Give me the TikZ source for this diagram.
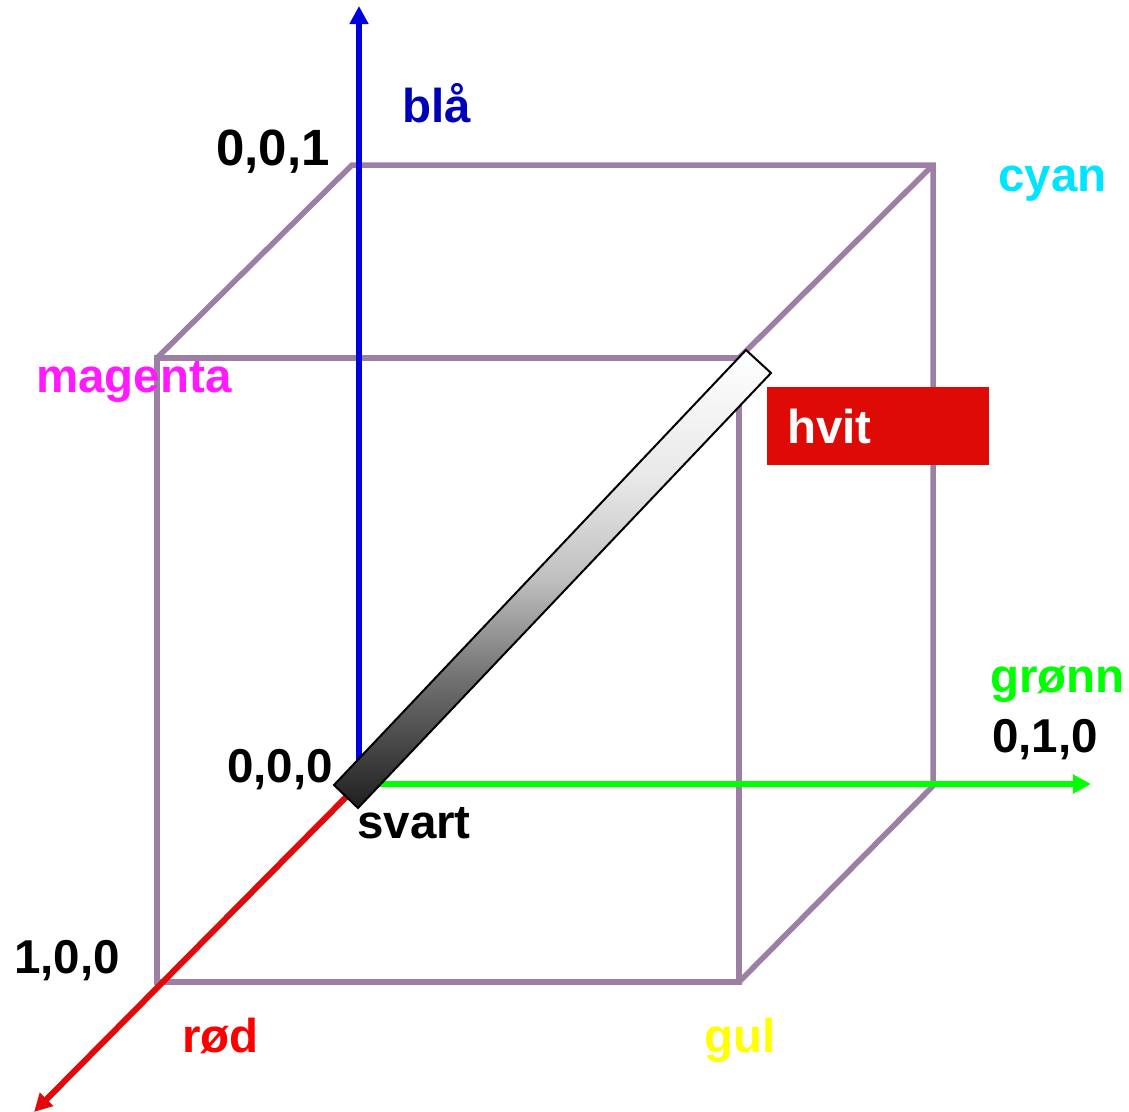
\documentclass[tikz,border=0pt]{standalone}
\usepackage{fontspec}
\setmainfont{Liberation Sans}
\usetikzlibrary{arrows.meta}
\definecolor{edgepurple}{HTML}{9B80A3}
\definecolor{axisblue}{HTML}{0000DD}
\definecolor{labelblue}{HTML}{0000B8}
\definecolor{axisgreen}{HTML}{00FF00}
\definecolor{axisred}{HTML}{E00A0A}
\definecolor{labelred}{HTML}{FF0000}
\definecolor{labelcyan}{HTML}{00E5FF}
\definecolor{labelmagenta}{HTML}{FF1AFF}
\definecolor{labelyellow}{HTML}{FFFF00}
\definecolor{boxred}{HTML}{DD0A05}
\pgfdeclareverticalshading{bargrey}{100bp}{
  rgb(0bp)=(0.12,0.12,0.12);
  rgb(25bp)=(0.12,0.12,0.12);
  rgb(39bp)=(0.44,0.44,0.44);
  rgb(50bp)=(0.75,0.75,0.75);
  rgb(61bp)=(0.91,0.91,0.91);
  rgb(75bp)=(1,1,1);
  rgb(100bp)=(1,1,1)}
\tikzset{
  cubeedge/.style={draw=edgepurple,line width=5.5pt,line join=miter},
  axisline/.style={line width=6pt,-{Triangle[length=18pt,width=18pt]}},
  lab/.style={anchor=base west,inner sep=0pt,font=\bfseries\fontsize{47.5}{47.5}\selectfont},
}
\begin{document}
\begin{tikzpicture}[x=1pt,y=-1pt]
\useasboundingbox (0,0) rectangle (1129,1111);
% cube corners
\coordinate (ftl) at (157,358);
\coordinate (ftr) at (739,358);
\coordinate (fbr) at (739,982);
\coordinate (fbl) at (157,982);
\coordinate (btl) at (352,165);
\coordinate (btr) at (933,165);
\coordinate (bbr) at (933,786);
% axis ends
\coordinate (origin) at (359,784);
\coordinate (bluetip) at (359,6);
\coordinate (greentip) at (1091,784);
\coordinate (redtip) at (34,1112);
% cube edges
\draw[cubeedge] (ftl) -- (ftr) -- (fbr) -- (fbl) -- cycle;
\draw[cubeedge] (ftl) -- (btl) -- (btr) -- (bbr) -- (fbr);
\draw[cubeedge] (btr) -- (ftr);
% axes
\draw[axisline,axisblue] (origin) -- (bluetip);
\draw[axisline,axisgreen] (origin) -- (greentip);
\draw[axisline,axisred] (origin) -- (redtip);
% grey bar
\coordinate (barA) at (334,785);
\coordinate (barB) at (358,808);
\coordinate (barC) at (771,373);
\coordinate (barD) at (746,350);
\begin{scope}
\clip (barA) -- (barB) -- (barC) -- (barD) -- cycle;
\shade[shading=bargrey] (320,350) rectangle (785,808);
\end{scope}
\draw[black,line width=2pt,line join=miter] (barA) -- (barB) -- (barC) -- (barD) -- cycle;
% white label box
\fill[boxred] (767,387) rectangle (989,465);
% labels
\node[lab,text=labelblue] (bla) at (402,122) {blå};
\node[lab,text=black,font=\bfseries\fontsize{51}{51}\selectfont] (p001) at (216,165) {0,0,1};
\node[lab,text=labelcyan] (cyan) at (998,191) {cyan};
\node[lab,text=labelmagenta] (magenta) at (36,392) {magenta};
\node[lab,text=white] (hvit) at (787,443) {hvit};
\node[lab,text=axisgreen] (gronn) at (990,692) {grønn};
\node[lab,text=black] (p010) at (992,752) {0,1,0};
\node[lab,text=black] (p000) at (227,782) {0,0,0};
\node[lab,text=black] (svart) at (357,838) {svart};
\node[lab,text=black] (p100) at (14,973) {1,0,0};
\node[lab,text=labelred] (rod) at (182,1052) {rød};
\node[lab,text=labelyellow] (gul) at (704,1052) {gul};
\end{tikzpicture}
\end{document}
